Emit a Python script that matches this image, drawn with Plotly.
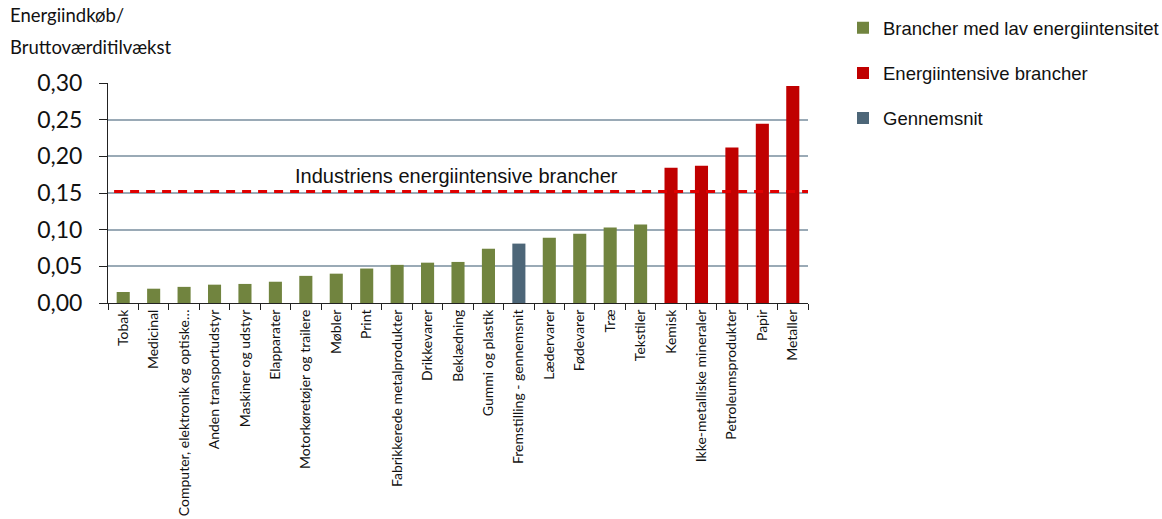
import plotly.graph_objects as go

# Industries, sorted by energy purchases relative to gross value added
categories = [
    "Tobak", "Medicinal", "Computer, elektronik og optiske…", "Anden transportudstyr",
    "Maskiner og udstyr", "Elapparater", "Motorkøretøjer og trailere", "Møbler", "Print",
    "Fabrikkerede metalprodukter", "Drikkevarer", "Beklædning", "Gummi og plastik",
    "Fremstilling - gennemsnit", "Lædervarer", "Fødevarer", "Træ", "Tekstiler",
    "Kemisk", "Ikke-metalliske mineraler", "Petroleumsprodukter", "Papir", "Metaller",
]
values = [
    0.015, 0.0195, 0.022, 0.025, 0.026, 0.029, 0.037, 0.040, 0.047,
    0.052, 0.055, 0.056, 0.074, 0.081, 0.089, 0.0945, 0.103, 0.107,
    0.1845, 0.187, 0.212, 0.2445, 0.296,
]
groups = ["lav"] * 13 + ["snit"] + ["lav"] * 4 + ["intensiv"] * 5

series = [
    ("lav", "Brancher med lav energiintensitet", "#71843F"),
    ("intensiv", "Energiintensive brancher", "#C00000"),
    ("snit", "Gennemsnit", "#4D6678"),
]

threshold = 0.152
threshold_label = "Industriens energiintensive brancher"
y_ticks = [0.0, 0.05, 0.10, 0.15, 0.20, 0.25, 0.30]
y_ticktext = ["0,00", "0,05", "0,10", "0,15", "0,20", "0,25", "0,30"]

fig = go.Figure()
for i, (key, name, color) in enumerate(series):
    xs = [c for c, g in zip(categories, groups) if g == key]
    ys = [v for v, g in zip(values, groups) if g == key]
    fig.add_trace(go.Bar(
        x=xs, y=ys, name=name, marker=dict(color=color, line=dict(width=0)),
        width=0.43, legendgroup=key, legendrank=i,
    ))

fig.add_shape(type="line", xref="x", yref="y", x0=-0.3, x1=22.5,
              y0=threshold, y1=threshold,
              line=dict(color="#E00000", width=3, dash="9px,7px"), layer="above")

fig.add_annotation(x=10.95, y=0.173, xref="x", yref="y", text=threshold_label,
                   showarrow=False, font=dict(family="Liberation Sans, Arial", size=20, color="#111"))

fig.add_annotation(x=-0.143, y=(303 - 15) / 220, xref="paper", yref="paper",
                   text="Energiindkøb/", showarrow=False, xanchor="left", yanchor="middle",
                   font=dict(family="Lato", size=18.5, color="#111"))
fig.add_annotation(x=-0.143, y=(303 - 47) / 220, xref="paper", yref="paper",
                   text="Bruttoværditilvækst", showarrow=False, xanchor="left", yanchor="middle",
                   font=dict(family="Lato", size=18.5, color="#111"))

fig.update_layout(
    width=1162, height=519,
    margin=dict(l=108, r=354, t=83, b=216, pad=0, autoexpand=False),
    paper_bgcolor="white", plot_bgcolor="white",
    barmode="relative",
    showlegend=True,
    legend=dict(x=1.05, y=1.335, xanchor="left", yanchor="top",
                font=dict(family="Liberation Sans, Arial", size=18.5, color="#111"),
                traceorder="grouped", tracegroupgap=18, itemwidth=30,
                bgcolor="rgba(0,0,0,0)"),
    xaxis=dict(
        type="category", categoryorder="array", categoryarray=categories,
        range=[-0.5, 22.5], tickangle=-90, tickson="boundaries", automargin=False,
        ticks="outside", ticklen=6, tickcolor="#222", tickwidth=1,
        showline=True, linecolor="#222", linewidth=1, showgrid=False,
        tickfont=dict(family="Lato", size=14, color="#111"),
    ),
    yaxis=dict(
        range=[0, 0.30], tickvals=y_ticks, ticktext=y_ticktext, automargin=False,
        ticks="outside", ticklen=8, tickcolor="#222", tickwidth=1,
        showline=True, linecolor="#222", linewidth=1,
        showgrid=True, gridcolor="#9AAAB6", gridwidth=1.5, zeroline=False,
        tickfont=dict(family="Lato", size=23, color="#111"), ticklabelstandoff=12,
    ),
)

fig.write_html("out.html")
